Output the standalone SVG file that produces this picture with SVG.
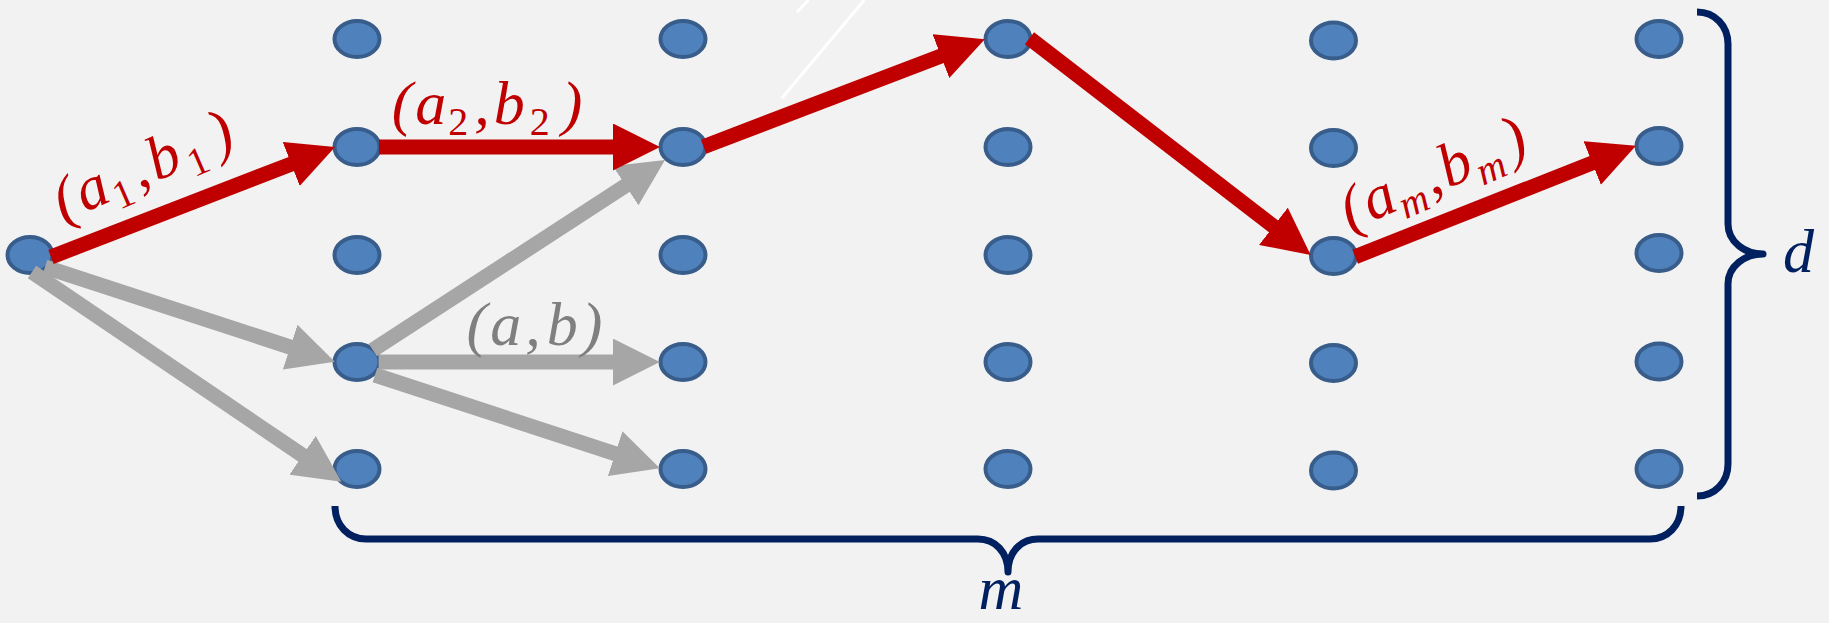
<svg xmlns="http://www.w3.org/2000/svg" width="1829" height="623" viewBox="0 0 1829 623">
<defs>
<style>
.node{fill:#4F81BD;stroke:#385D8A;stroke-width:4}
.red{stroke:#C00000;stroke-width:15;fill:none}
.gray{stroke:#A6A6A6;stroke-width:15;fill:none}
.lbl{font-family:"Liberation Serif","DejaVu Serif",serif;font-style:italic;font-size:62px}
.sub{font-size:40px;font-style:normal}
.subi{font-size:40px;font-style:italic}
.brace{stroke:#002060;stroke-width:7;fill:none;stroke-linecap:butt;stroke-linejoin:round}
</style>
<marker id="hr" markerUnits="userSpaceOnUse" viewBox="0 0 47 47" markerWidth="47" markerHeight="47" refX="3" refY="23.5" orient="auto"><path d="M0,0 L47,23.5 L0,47 z" fill="#C00000"/></marker>
<marker id="hg" markerUnits="userSpaceOnUse" viewBox="0 0 47 47" markerWidth="47" markerHeight="47" refX="3" refY="23.5" orient="auto"><path d="M0,0 L47,23.5 L0,47 z" fill="#A6A6A6"/></marker>
</defs>
<rect width="1829" height="623" fill="#F2F2F2"/>
<g id="bg-lines" stroke="#FFFFFF" stroke-width="3">
<line x1="797" y1="12" x2="808.5" y2="0"/>
<line x1="781.7" y1="98.3" x2="864.3" y2="0"/>
</g>
<g id="nodes">
<g id="n0"><ellipse class="node" cx="30" cy="255" rx="22.5" ry="18"/></g>
<g id="c1"><ellipse class="node" cx="357" cy="39" rx="22.5" ry="18"/><ellipse class="node" cx="357" cy="147" rx="22.5" ry="18"/><ellipse class="node" cx="357" cy="255" rx="22.5" ry="18"/><ellipse class="node" cx="357" cy="362" rx="22.5" ry="18"/><ellipse class="node" cx="357" cy="469" rx="22.5" ry="18"/></g>
<g id="c2"><ellipse class="node" cx="683" cy="39" rx="22.5" ry="18"/><ellipse class="node" cx="683" cy="147" rx="22.5" ry="18"/><ellipse class="node" cx="683" cy="255" rx="22.5" ry="18"/><ellipse class="node" cx="683" cy="362" rx="22.5" ry="18"/><ellipse class="node" cx="683" cy="469" rx="22.5" ry="18"/></g>
<g id="c3"><ellipse class="node" cx="1008" cy="39" rx="22.5" ry="18"/><ellipse class="node" cx="1008" cy="147" rx="22.5" ry="18"/><ellipse class="node" cx="1008" cy="255" rx="22.5" ry="18"/><ellipse class="node" cx="1008" cy="362" rx="22.5" ry="18"/><ellipse class="node" cx="1008" cy="469" rx="22.5" ry="18"/></g>
<g id="c4"><ellipse class="node" cx="1333.5" cy="40.5" rx="22.5" ry="18"/><ellipse class="node" cx="1333.5" cy="148" rx="22.5" ry="18"/><ellipse class="node" cx="1333.5" cy="256" rx="22.5" ry="18"/><ellipse class="node" cx="1333.5" cy="363" rx="22.5" ry="18"/><ellipse class="node" cx="1333.5" cy="470.5" rx="22.5" ry="18"/></g>
<g id="c5"><ellipse class="node" cx="1659" cy="39" rx="22.5" ry="18"/><ellipse class="node" cx="1659" cy="146" rx="22.5" ry="18"/><ellipse class="node" cx="1659" cy="253" rx="22.5" ry="18"/><ellipse class="node" cx="1659" cy="361.5" rx="22.5" ry="18"/><ellipse class="node" cx="1659" cy="469" rx="22.5" ry="18"/></g>
</g>
<g id="connectors">
<line class="gray" x1="45" y1="267" x2="293" y2="348" marker-end="url(#hg)"/>
<line class="gray" x1="32" y1="272" x2="305" y2="457" marker-end="url(#hg)"/>
<line class="gray" x1="372.8" y1="350" x2="628.1" y2="184" marker-end="url(#hg)"/>
<line class="gray" x1="378.6" y1="362" x2="615.8" y2="362" marker-end="url(#hg)"/>
<line class="gray" x1="375" y1="375" x2="618" y2="454.6" marker-end="url(#hg)"/>
<line class="red" x1="51" y1="257" x2="294" y2="162.9" marker-end="url(#hr)"/>
<line class="red" x1="379" y1="147" x2="616" y2="147" marker-end="url(#hr)"/>
<line class="red" x1="703.6" y1="146.7" x2="943.7" y2="55" marker-end="url(#hr)"/>
<line class="red" x1="1029.5" y1="38.3" x2="1275.8" y2="228.1" marker-end="url(#hr)"/>
<line class="red" x1="1355.2" y1="256.7" x2="1595" y2="161.9" marker-end="url(#hr)"/>
</g>
<g id="labels">
<text class="lbl" fill="#C00000" transform="translate(63,222) rotate(-23.5)">(<tspan dx="3">a</tspan><tspan class="sub" dx="2" dy="11.5">1</tspan><tspan dx="6" dy="-11.5">,</tspan><tspan dx="4">b</tspan><tspan class="sub" dx="5" dy="11.5">1</tspan><tspan dx="12" dy="-11.5">)</tspan></text>
<text class="lbl" fill="#C00000" x="391.7" y="123.5">(<tspan dx="3">a</tspan><tspan class="sub" dx="2" dy="11.5">2</tspan><tspan dx="6" dy="-11.5">,</tspan><tspan dx="4">b</tspan><tspan class="sub" dx="5" dy="11.5">2</tspan><tspan dx="12" dy="-11.5">)</tspan></text>
<text class="lbl" fill="#C00000" transform="translate(1350,231) rotate(-23.5)">(<tspan dx="3">a</tspan><tspan class="subi" dx="1" dy="11.5">m</tspan><tspan dx="4" dy="-11.5">,</tspan><tspan dx="3">b</tspan><tspan class="subi" dx="2" dy="11.5">m</tspan><tspan dx="8" dy="-11.5">)</tspan></text>
<text class="lbl" fill="#7F7F7F" x="466.5" y="345">(<tspan dx="3">a</tspan><tspan dx="4">,</tspan><tspan dx="6">b</tspan><tspan dx="4">)</tspan></text>
</g>
<g id="brace-m">
<path class="brace" d="M335,506 C335,526 349,539 366,539 L978,539 C995,539 1008,552 1008,572 C1008,552 1021,539 1038,539 L1650,539 C1667,539 1681,526 1681,506"/>
<text class="lbl" fill="#002060" x="1001" y="609" text-anchor="middle" font-size="64">m</text>
</g>
<g id="brace-d">
<path class="brace" d="M1697,12 C1715,12 1728,26 1728,44 L1728,224 C1728,242 1745,254 1763,254 C1745,254 1728,266 1728,284 L1728,464 C1728,482 1715,496 1697,496"/>
<text class="lbl" fill="#002060" x="1783" y="272" font-size="68">d</text>
</g>
</svg>
